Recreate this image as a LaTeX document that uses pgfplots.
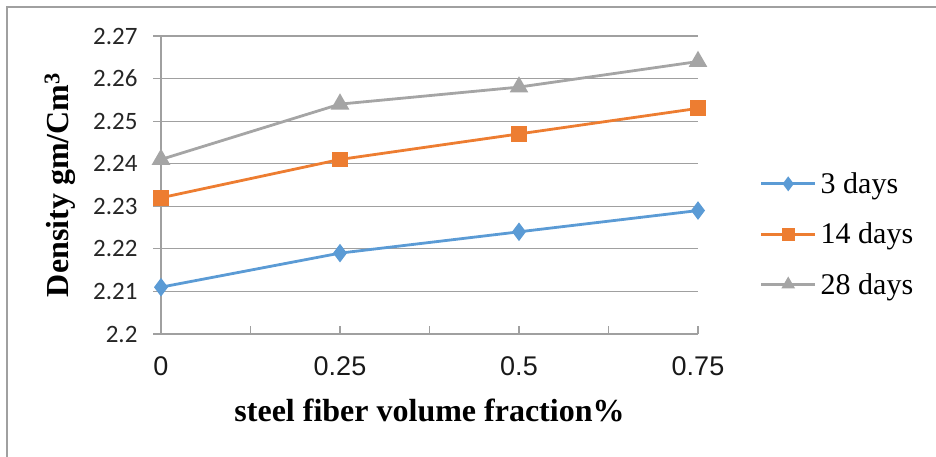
\documentclass[border=0pt]{standalone}
\usepackage{pgfplots}
\pgfplotsset{compat=1.18}
\usepackage{fontspec}
\setmainfont{Liberation Serif}
\newfontfamily\calibri{Carlito}
\newfontfamily\arial{Liberation Sans}
\definecolor{c1}{HTML}{5B9BD5}
\definecolor{c2}{HTML}{ED7D31}
\definecolor{c3}{HTML}{A5A5A5}
\definecolor{gridc}{HTML}{A0A0A0}
\begin{document}
\begin{tikzpicture}[x=1pt,y=1pt]
\useasboundingbox (0,0) rectangle (936,457);
\draw[gridc, line width=1.2pt] (7,0) -- (7,450) -- (936,450);
\begin{axis}[
  at={(161pt,123pt)}, anchor=south west,
  scale only axis, width=537pt, height=298pt,
  xmin=0, xmax=0.75, ymin=2.2, ymax=2.27,
  axis lines=left, axis line style={-, gridc, line width=1.2pt},
  xtick={0,0.25,0.5,0.75}, xticklabels={0,0.25,0.5,0.75},
  minor xtick={0.125,0.375,0.625},
  ytick={2.2,2.21,2.22,2.23,2.24,2.25,2.26,2.27},
  yticklabels={2.2,2.21,2.22,2.23,2.24,2.25,2.26,2.27},
  xtick align=inside, ytick align=outside,
  major tick length=8pt, minor tick length=8pt,
  tick style={gridc, line width=1.2pt},
  ymajorgrids, major grid style={gridc, line width=1.2pt},
  /pgf/number format/assume math mode=true,
  yticklabel style={font=\calibri\fontsize{25}{25}\selectfont, text=black!85, anchor=east, xshift=-12pt},
  xticklabel style={font=\arial\fontsize{27}{27}\selectfont, text=black!90, anchor=north, yshift=-19pt},
  xlabel={steel fiber volume fraction\%},
  ylabel={Density gm/Cm\textsuperscript{3}},
  label style={font=\bfseries\fontsize{32}{32}\selectfont},
  xlabel style={at={(axis description cs:0.5,-0.255)}, anchor=center},
  ylabel style={at={(axis description cs:-0.188,0.5)}, anchor=center},
  legend style={draw=none, fill=none, at={(axis description cs:1.109,0.335)}, anchor=west,
    font=\fontsize{30}{30}\selectfont, row sep=24pt, legend cell align=left,
    nodes={inner xsep=4pt}},
  legend image code/.code={\draw[#1, line width=3pt, mark repeat=2, mark phase=2, mark size=5pt] plot coordinates {(0pt,0pt) (27pt,0pt) (54pt,0pt)};},
  clip=false,
]
\addplot[c1, line width=2.8pt, mark=diamond*, mark size=7pt, mark options={solid}]
  coordinates {(0,2.211) (0.25,2.219) (0.5,2.224) (0.75,2.229)};
\addlegendentry{3 days}
\addplot[c2, line width=2.8pt, mark=square*, mark size=6.5pt, mark options={solid}]
  coordinates {(0,2.232) (0.25,2.241) (0.5,2.247) (0.75,2.253)};
\addlegendentry{14 days}
\addplot[c3, line width=2.8pt, mark=triangle*, mark size=8pt, mark options={solid}]
  coordinates {(0,2.241) (0.25,2.254) (0.5,2.258) (0.75,2.264)};
\addlegendentry{28 days}
\end{axis}
\end{tikzpicture}
\end{document}
